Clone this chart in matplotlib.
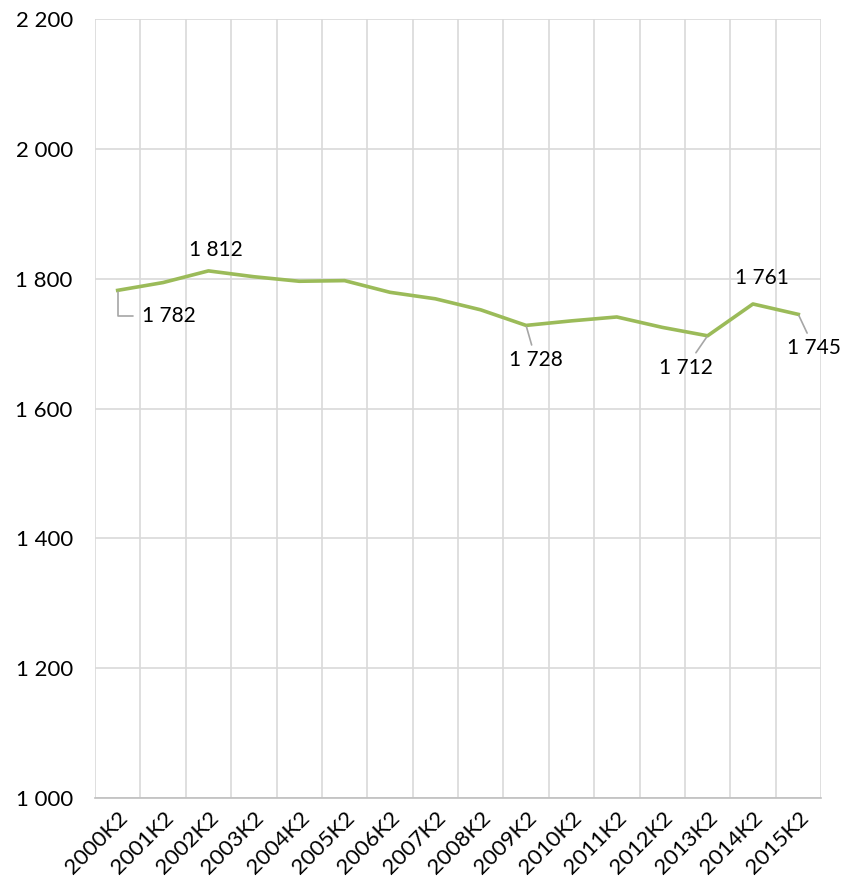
import numpy as np
import matplotlib
matplotlib.use("Agg")
import matplotlib.pyplot as plt
from matplotlib.ticker import FuncFormatter, MultipleLocator

# ── Data ──────────────────────────────────────────────────────────────────────
quarters = [f"{y}K2" for y in range(2000, 2016)]
values = [1782, 1794, 1812, 1803, 1796, 1797, 1779, 1769,
          1752, 1728, 1735, 1741, 1725, 1712, 1761, 1745]

# labelled points: index -> (dx, dy in pixels, leader style)
labels = {
    0: (24, -26, "elbow"),
    2: (7, 21, None),
    9: (10, -35, "line"),
    13: (-22, -32, "line"),
    14: (9, 26, None),
    15: (16, -34, "line"),
}

LINE_COLOR = "#9bbb59"
GRID_COLOR = "#d9d9d9"
FONT = ["Lato", "DejaVu Sans"]

plt.rcParams["font.family"] = FONT


def fmt(v):
    return f"{int(v):,}".replace(",", " ")


fig = plt.figure(figsize=(8.48, 8.81), dpi=100)
ax = fig.add_axes([95 / 848, 1 - 798 / 881, (821 - 95) / 848, (798 - 19) / 881])

x = np.arange(len(quarters))
ax.plot(x, values, color=LINE_COLOR, lw=2.6, solid_joinstyle="round", zorder=3)

ax.set_xlim(-0.5, len(quarters) - 0.5)
ax.set_ylim(1000, 2200)

ax.set_xticks(x)
ax.set_xticklabels(quarters, rotation=45, ha="right", rotation_mode="anchor",
                   fontsize=16, color="#000000")
ax.set_xticks(np.arange(-0.5, len(quarters)), minor=True)
ax.yaxis.set_major_locator(MultipleLocator(200))
ax.yaxis.set_major_formatter(FuncFormatter(lambda v, _: fmt(v)))
ax.tick_params(axis="y", labelsize=16, length=0, pad=16)
ax.tick_params(axis="x", which="both", length=0, pad=7)

ax.grid(True, axis="y", which="major", color=GRID_COLOR, lw=1.2)
ax.grid(True, axis="x", which="minor", color=GRID_COLOR, lw=1.2)
ax.grid(False, axis="x", which="major")
ax.set_axisbelow(True)

for side in ["top", "right", "left"]:
    ax.spines[side].set_visible(False)
ax.spines["bottom"].set_color("#bfbfbf")
ax.spines["bottom"].set_linewidth(1.2)

# ── Data labels ───────────────────────────────────────────────────────────────
for i, (dx, dy, leader) in labels.items():
    v = values[i]
    if leader == "elbow":
        ax.annotate(fmt(v), xy=(x[i], v), xytext=(dx, dy), textcoords="offset pixels",
                    ha="left", va="center", fontsize=15,
                    arrowprops=dict(arrowstyle="-", color="#a6a6a6", lw=1.2,
                                    connectionstyle="angle,angleA=0,angleB=90,rad=0",
                                    shrinkA=4, shrinkB=1))
    elif leader == "line":
        ax.annotate(fmt(v), xy=(x[i], v), xytext=(dx, dy), textcoords="offset pixels",
                    ha="center", va="center", fontsize=15,
                    arrowprops=dict(arrowstyle="-", color="#a6a6a6", lw=1.2,
                                    shrinkA=2, shrinkB=1))
    else:
        ax.annotate(fmt(v), xy=(x[i], v), xytext=(dx, dy), textcoords="offset pixels",
                    ha="center", va="center", fontsize=15)

fig.savefig("out.png", dpi=100)
